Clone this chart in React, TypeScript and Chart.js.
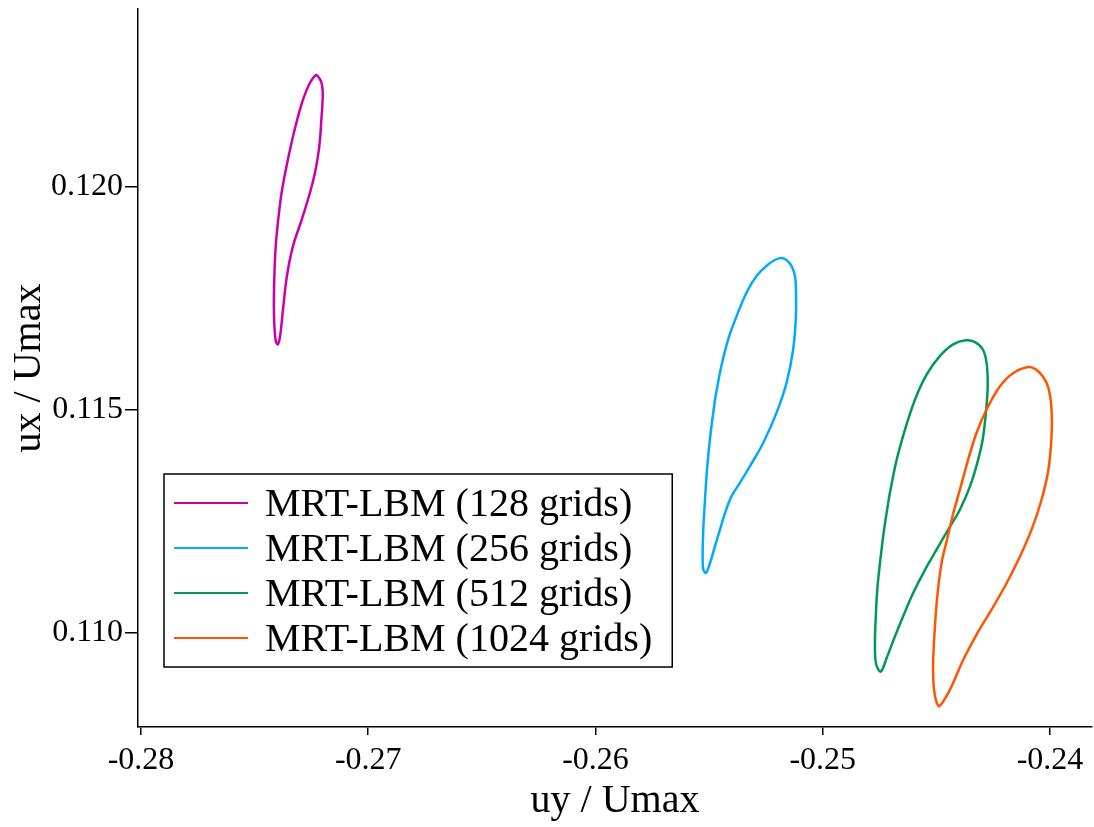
import React, { useEffect, useRef } from "react";
import { Chart, registerables } from "chart.js";

Chart.register(...registerables);

// Velocity trajectories (uy/Umax, ux/Umax) over one period, per grid resolution
const uy128 = [-0.27396, -0.27381, -0.27359, -0.27337, -0.27312, -0.27286, -0.27259, -0.27230, -0.27215, -0.27205, -0.27200, -0.27202, -0.27207, -0.27212, -0.27221, -0.27234, -0.27256, -0.27292, -0.27331, -0.27358, -0.27375, -0.27384, -0.27391, -0.27399, -0.27409, -0.27415, -0.27413, -0.27407, -0.27396];
const ux128 = [0.11926, 0.11986, 0.12046, 0.12098, 0.12150, 0.12195, 0.12229, 0.12249, 0.12242, 0.12231, 0.12210, 0.12180, 0.12143, 0.12105, 0.12068, 0.12031, 0.11986, 0.11926, 0.11866, 0.11798, 0.11724, 0.11679, 0.11655, 0.11646, 0.11661, 0.11724, 0.11799, 0.11866, 0.11926];

const uy256 = [-0.25474, -0.25449, -0.25416, -0.25379, -0.25335, -0.25291, -0.25240, -0.25188, -0.25159, -0.25137, -0.25122, -0.25118, -0.25118, -0.25130, -0.25159, -0.25203, -0.25262, -0.25320, -0.25364, -0.25401, -0.25430, -0.25452, -0.25474, -0.25496, -0.25514, -0.25527, -0.25526, -0.25518, -0.25508, -0.25493, -0.25474];
const ux256 = [0.11522, 0.11590, 0.11657, 0.11709, 0.11762, 0.11799, 0.11825, 0.11839, 0.11835, 0.11821, 0.11799, 0.11769, 0.11709, 0.11635, 0.11560, 0.11493, 0.11425, 0.11373, 0.11336, 0.11306, 0.11268, 0.11231, 0.11194, 0.11156, 0.11134, 0.11146, 0.11224, 0.11298, 0.11373, 0.11448, 0.11522];

const uy512 = [-0.24707, -0.24678, -0.24638, -0.24594, -0.24543, -0.24484, -0.24426, -0.24370, -0.24330, -0.24296, -0.24279, -0.24274, -0.24282, -0.24296, -0.24320, -0.24352, -0.24396, -0.24448, -0.24499, -0.24550, -0.24602, -0.24646, -0.24682, -0.24719, -0.24745, -0.24766, -0.24770, -0.24767, -0.24760, -0.24748, -0.24730, -0.24707];
const ux512 = [0.11306, 0.11380, 0.11455, 0.11522, 0.11578, 0.11620, 0.11646, 0.11655, 0.11651, 0.11635, 0.11605, 0.11552, 0.11493, 0.11433, 0.11380, 0.11328, 0.11276, 0.11231, 0.11186, 0.11141, 0.11089, 0.11037, 0.10992, 0.10943, 0.10913, 0.10932, 0.10984, 0.11029, 0.11096, 0.11156, 0.11231, 0.11306];

const uy1024 = [-0.24427, -0.24396, -0.24360, -0.24323, -0.24279, -0.24220, -0.24161, -0.24095, -0.24062, -0.24031, -0.24007, -0.23993, -0.23993, -0.24007, -0.24037, -0.24081, -0.24132, -0.24191, -0.24257, -0.24323, -0.24382, -0.24433, -0.24470, -0.24491, -0.24510, -0.24514, -0.24507, -0.24496, -0.24477, -0.24453, -0.24427];
const ux1024 = [0.11265, 0.11321, 0.11388, 0.11448, 0.11500, 0.11552, 0.11582, 0.11595, 0.11590, 0.11574, 0.11549, 0.11500, 0.11440, 0.11365, 0.11298, 0.11231, 0.11171, 0.11111, 0.11052, 0.10996, 0.10939, 0.10880, 0.10846, 0.10836, 0.10872, 0.10932, 0.11007, 0.11081, 0.11156, 0.11209, 0.11265];

const seriesLabels = [
  "MRT-LBM (128 grids)",
  "MRT-LBM (256 grids)",
  "MRT-LBM (512 grids)",
  "MRT-LBM (1024 grids)",
];
const seriesColors = ["#cc00aa", "#00aaff", "#009955", "#ff5500"];
const seriesUy = [uy128, uy256, uy512, uy1024];
const seriesUx = [ux128, ux256, ux512, ux1024];

const xTicks = [-0.28, -0.27, -0.26, -0.25, -0.24];
const xTickLabels = ["-0.28", "-0.27", "-0.26", "-0.25", "-0.24"];
const yTicks = [0.11, 0.115, 0.12];
const yTickLabels = ["0.110", "0.115", "0.120"];

const xRange = [-0.28013, -0.23815];
const yRange = [0.10789, 0.12397];

const FONT = "'Liberation Serif', 'Times New Roman', serif";

// Framed legend placed in the lower-left part of the plot area
const boxedLegend = {
  id: "boxedLegend",
  afterDatasetsDraw(chart: any) {
    const { ctx, chartArea } = chart;
    const sets = chart.data.datasets;
    ctx.save();
    ctx.font = `40px ${FONT}`;
    const maxW = Math.max(...sets.map((d: any) => ctx.measureText(d.label).width));
    const rowH = 45;
    const height = rowH * (sets.length - 1) + 58;
    const left = chartArea.left + 26;
    const bottom = chartArea.bottom - 60;
    const top = bottom - height;
    const width = 101 + maxW + 20;
    ctx.fillStyle = "#fff";
    ctx.fillRect(left, top, width, height);
    ctx.strokeStyle = "#000";
    ctx.lineWidth = 1.5;
    ctx.strokeRect(left, top, width, height);
    sets.forEach((d: any, i: number) => {
      const cy = top + 29 + i * rowH;
      ctx.strokeStyle = d.borderColor;
      ctx.lineWidth = 2;
      ctx.beginPath();
      ctx.moveTo(left + 10, cy);
      ctx.lineTo(left + 84, cy);
      ctx.stroke();
      ctx.fillStyle = "#000";
      ctx.textAlign = "left";
      ctx.textBaseline = "middle";
      ctx.fillText(d.label, left + 101, cy + 2);
    });
    ctx.restore();
  },
};

export default function App() {
  const canvasRef = useRef<HTMLCanvasElement | null>(null);

  useEffect(() => {
    const canvas = canvasRef.current;
    if (!canvas) return;
    const datasets = seriesLabels.map((label, s) => ({
      label,
      data: seriesUy[s].map((x, i) => ({ x, y: seriesUx[s][i] })),
      borderColor: seriesColors[s],
      backgroundColor: seriesColors[s],
      showLine: true,
      fill: false,
      pointRadius: 0,
      borderWidth: 2.5,
      tension: 0.35,
      order: seriesLabels.length - s,
    }));

    const axisCommon = {
      type: "linear" as const,
      grid: {
        display: true,
        drawOnChartArea: false,
        drawTicks: true,
        color: "#000",
        lineWidth: 1.5,
      },
      border: { display: true, color: "#000", width: 1.5 },
    };

    const chart = new Chart(canvas, {
      type: "scatter",
      data: { datasets },
      options: {
        animation: false,
        responsive: false,
        devicePixelRatio: 1,
        layout: { padding: { top: 9, right: 2, left: 0, bottom: 0 } },
        plugins: {
          legend: { display: false },
          tooltip: { enabled: false },
        },
        scales: {
          x: {
            ...axisCommon,
            min: xRange[0],
            max: xRange[1],
            grid: { ...axisCommon.grid, tickLength: 8 },
            afterFit: (scale: any) => {
              scale.height = 100;
              scale.paddingLeft = 0;
              scale.paddingRight = 0;
            },
            afterBuildTicks: (scale: any) => {
              scale.ticks = xTicks.map((value) => ({ value }));
            },
            ticks: {
              autoSkip: false,
              maxRotation: 0,
              padding: 6,
              color: "#000",
              font: { family: FONT, size: 32 },
              callback: (_v: any, i: number) => xTickLabels[i],
            },
            title: {
              display: true,
              text: "uy / Umax",
              color: "#000",
              font: { family: FONT, size: 40 },
              padding: { top: 0, bottom: 2 },
            },
          },
          y: {
            ...axisCommon,
            min: yRange[0],
            max: yRange[1],
            grid: { ...axisCommon.grid, tickLength: 13 },
            afterFit: (scale: any) => {
              scale.width = 138;
              scale.paddingTop = 0;
              scale.paddingBottom = 0;
            },
            afterBuildTicks: (scale: any) => {
              scale.ticks = yTicks.map((value) => ({ value }));
            },
            ticks: {
              autoSkip: false,
              padding: 2,
              color: "#000",
              font: { family: FONT, size: 32 },
              callback: (_v: any, i: number) => yTickLabels[i],
            },
            title: {
              display: true,
              text: "ux / Umax",
              color: "#000",
              font: { family: FONT, size: 40 },
              padding: { top: 5, bottom: 0 },
            },
          },
        },
      },
      plugins: [boxedLegend],
    });

    return () => chart.destroy();
  }, []);

  return (
    <div style={{ position: "fixed", left: 0, top: 0, width: 1094, height: 827, background: "#fff" }}>
      <canvas ref={canvasRef} width={1094} height={827} style={{ display: "block" }} />
    </div>
  );
}
